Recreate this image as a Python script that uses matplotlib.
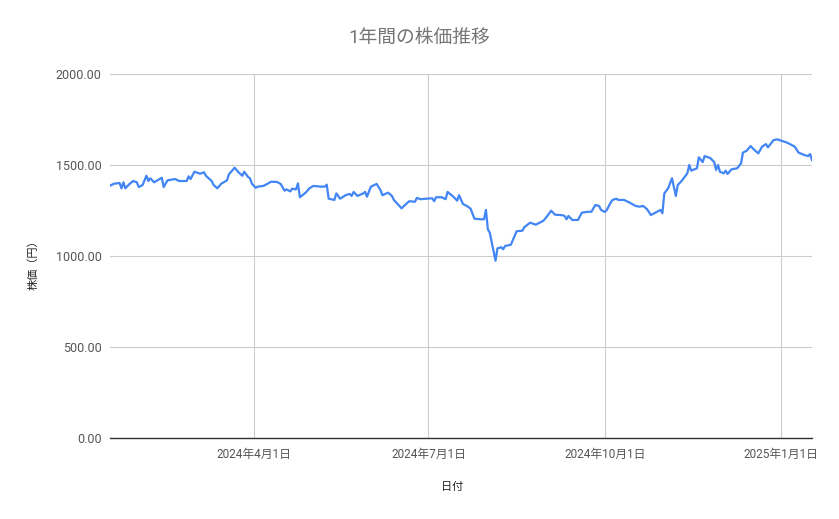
import numpy as np
import pandas as pd
import matplotlib
matplotlib.use("Agg")
import matplotlib.pyplot as plt

plt.rcParams['font.family'] = ['Roboto', 'Noto Sans CJK JP', 'DejaVu Sans']

# days counted from 2024-01-01
day_from_jan1 = [16, 18, 21, 22, 23, 24, 26, 28, 30, 31, 33, 35, 36, 37, 39, 43, 44, 46, 50, 52,
                 56, 57, 58, 60, 63, 65, 66, 69, 70, 72, 74, 77, 78, 81, 83, 85, 86, 88, 89, 90, 92,
                 93, 96, 100, 103, 105, 107, 108, 110, 111, 113, 114, 115, 118, 120, 122, 126, 128,
                 129, 130, 133, 134, 136, 139, 141, 142, 143, 145, 148, 149, 150, 152, 155, 157, 158,
                 161, 163, 164, 165, 168, 170, 172, 175, 176, 178,
                 181, 184, 185, 186, 189, 191, 192, 195, 197, 198, 200, 202, 204, 206, 209, 211, 212,
                 213, 214, 217, 218, 220, 221, 222, 225, 228, 231, 232, 235, 238, 242, 244, 246, 248, 252,
                 253, 254, 255, 257, 260, 262, 265, 267, 269, 271, 272, 274, 275, 277, 278, 280, 281,
                 284, 287, 290, 292, 294, 296, 298, 301, 303, 304, 305, 307, 309, 311, 312, 314, 317, 318,
                 319, 322, 323, 325, 326, 329, 331, 332, 333, 334, 336, 337, 338, 340, 343, 345, 346,
                 348, 350, 352, 354, 356, 358, 359, 362, 364, 365, 369, 373, 375, 378, 380, 381, 382]

prices = [1386, 1397, 1401, 1372, 1405, 1372, 1394, 1412, 1405, 1379, 1390, 1441, 1412, 1427, 1405,
          1430, 1379, 1416, 1423, 1412, 1412, 1438, 1423, 1463, 1452, 1460, 1441, 1412, 1390, 1372,
          1397, 1416, 1449, 1485, 1460, 1441, 1463, 1434, 1427, 1397, 1375,
          1381, 1385, 1408, 1407, 1396, 1359, 1366, 1355, 1370, 1366, 1399, 1323, 1348, 1372, 1385,
          1381, 1381, 1392, 1315, 1308, 1344, 1315, 1335, 1341, 1330, 1352, 1330, 1344, 1352, 1326,
          1381, 1396, 1363, 1334, 1348, 1330, 1308, 1297, 1262, 1282, 1301, 1298, 1319, 1312,
          1315, 1317, 1301, 1323, 1323, 1312, 1352, 1326, 1304, 1334, 1286, 1275, 1260, 1205, 1202,
          1202, 1253, 1147, 1128, 974, 1042, 1048, 1037, 1055, 1062, 1136, 1139, 1158, 1183, 1172,
          1194, 1220, 1249, 1227, 1224,
          1220, 1202, 1220, 1198, 1198, 1238, 1243, 1243, 1280, 1275, 1253, 1242, 1253, 1293, 1308,
          1315, 1308, 1308, 1293, 1275, 1271, 1275, 1257, 1225, 1242, 1253, 1235, 1344, 1372, 1427,
          1330, 1390, 1412, 1454, 1500,
          1469, 1482, 1542, 1516, 1549, 1538, 1516, 1473, 1500, 1463, 1454, 1469, 1451, 1476, 1482,
          1509, 1568, 1579, 1604, 1582, 1564, 1601, 1615, 1597, 1637, 1641, 1637, 1623, 1601, 1568,
          1555, 1549, 1560, 1527]

tick_dates = ['2024-04-01', '2024-07-01', '2024-10-01', '2025-01-01']
tick_labels = ['2024年4月1日', '2024年7月1日', '2024年10月1日', '2025年1月1日']
y_ticks = [0, 500, 1000, 1500, 2000]

dates = pd.Timestamp('2024-01-01') + pd.to_timedelta(day_from_jan1, unit='D')

fig = plt.figure(figsize=(8.39, 5.19), dpi=100)
ax = fig.add_axes([110 / 839, 1 - 438 / 519, 702 / 839, 364 / 519])

ax.plot(dates, prices, color='#4285F4', linewidth=1.6, solid_joinstyle='round')

ax.set_ylim(0, 2000)
ax.set_yticks(y_ticks)
ax.set_yticklabels(['%.2f' % v for v in y_ticks])
ax.set_xlim(dates[0], dates[-1])
ax.set_xticks(pd.to_datetime(tick_dates))
ax.set_xticklabels(tick_labels)

ax.grid(True, color='#cccccc', linewidth=0.8)
ax.set_axisbelow(True)
for s in ['top', 'right', 'left']:
    ax.spines[s].set_visible(False)
ax.spines['bottom'].set_color('#333333')
ax.spines['bottom'].set_linewidth(1.0)
ax.tick_params(axis='both', length=0, colors='#555555')
ax.tick_params(axis='y', labelsize=9, pad=6)
ax.tick_params(axis='x', labelsize=8.5, pad=7)

fig.text(419 / 839, 1 - 38 / 519, '1年間の株価推移', ha='center', va='center',
         fontsize=13.5, color='#757575')
fig.text(452 / 839, 1 - 487 / 519, '日付', ha='center', va='center',
         fontsize=8, color='#222222')
fig.text(33 / 839, 1 - 262 / 519, '株価（円）', ha='center', va='center',
         rotation=90, fontsize=8, color='#222222')

fig.savefig('out.png', dpi=100)
